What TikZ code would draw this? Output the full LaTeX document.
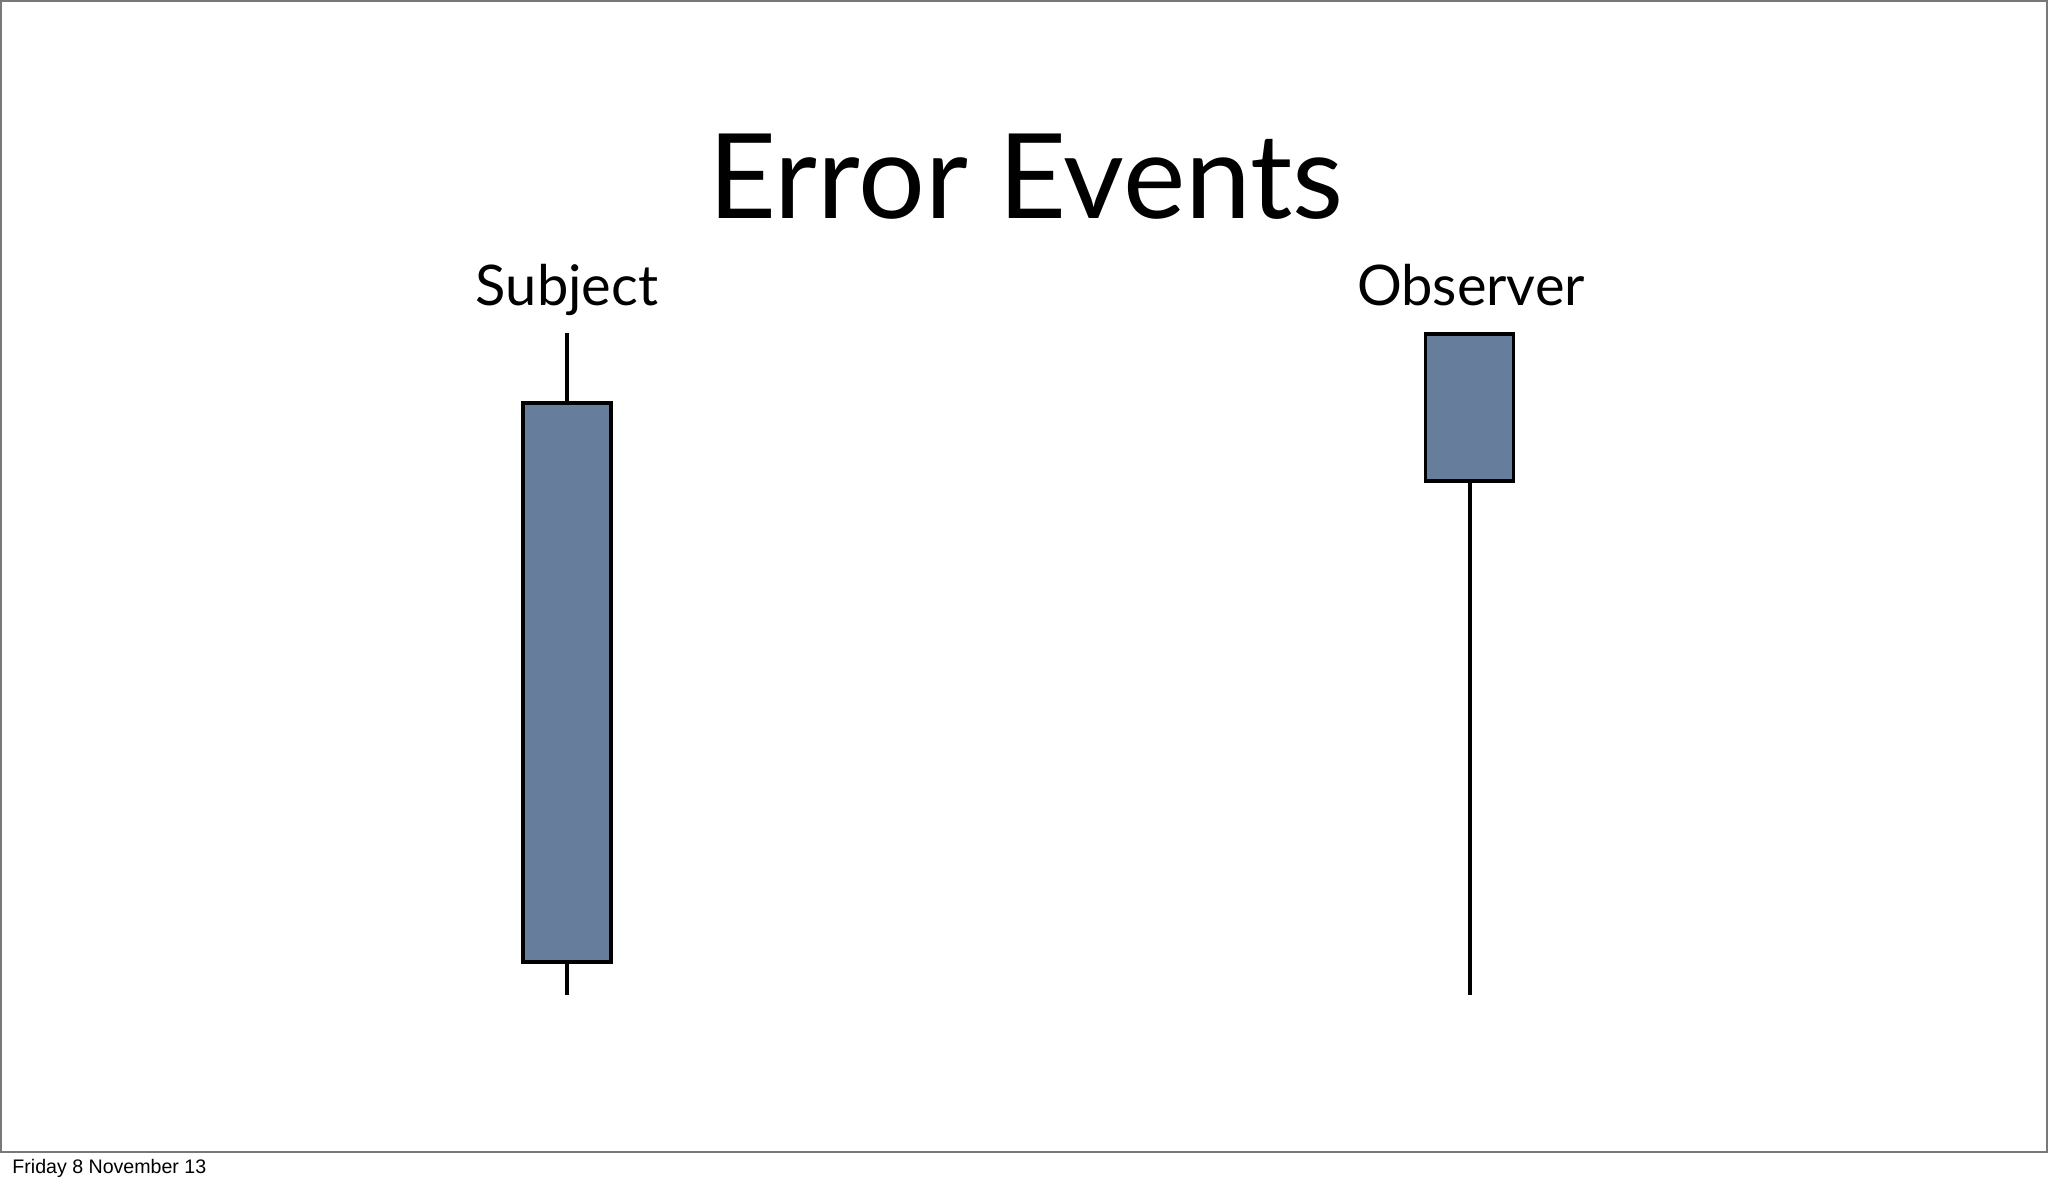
\documentclass[tikz,border=0pt]{standalone}
\usepackage{fontspec}
\newfontfamily\slidefont{Lato}
\newfontfamily\footfont{Liberation Sans}
\definecolor{candlefill}{RGB}{102,126,155}
\definecolor{framegray}{RGB}{120,120,120}
\usetikzlibrary{calc,positioning}

\tikzset{
  candle/.style={draw=black, line width=1.9pt, fill=candlefill, inner sep=0pt,
    minimum width=44pt},
  wick/.style={line width=2pt},
  heading/.style={font=\slidefont\fontsize{59}{70}\selectfont, anchor=base, inner sep=0pt},
  actor/.style={font=\slidefont\fontsize{28}{34}\selectfont, anchor=base, inner sep=0pt}
}

\begin{document}
\begin{tikzpicture}[x=0.5pt,y=-0.5pt]
        \useasboundingbox (0,0) rectangle (2048,1184);
        \draw[framegray, line width=1pt] (1,1) rectangle (2047,1152);
        \node[heading] (title) at (1026,218) {Error Events};
        \node[actor] (subjlabel) at (567,305) {Subject};
        \node[actor] (obslabel) at (1471,305) {Observer};
        % subject: long body, short wicks
        \node[candle, minimum height=279.5pt] (subj) at (567,682.5) {};
        \coordinate (subjhigh) at (567,333);
        \coordinate (subjlow) at (567,995);
        \draw[wick] (subj.north) -- (subjhigh);
        \draw[wick] (subj.south) -- (subjlow);
        % observer: short body, long lower wick
        \node[candle, minimum height=73.75pt] (obs) at (1469.5,407.5) {};
        \coordinate (obslow) at (1469.5,995);
        \draw[wick] (obs.south) -- (obslow);
        \node[font=\footfont\fontsize{9.8}{12}\selectfont, anchor=base west, inner sep=0pt] (date) at (12,1173) {Friday 8 November 13};
      \end{tikzpicture}
\end{document}
